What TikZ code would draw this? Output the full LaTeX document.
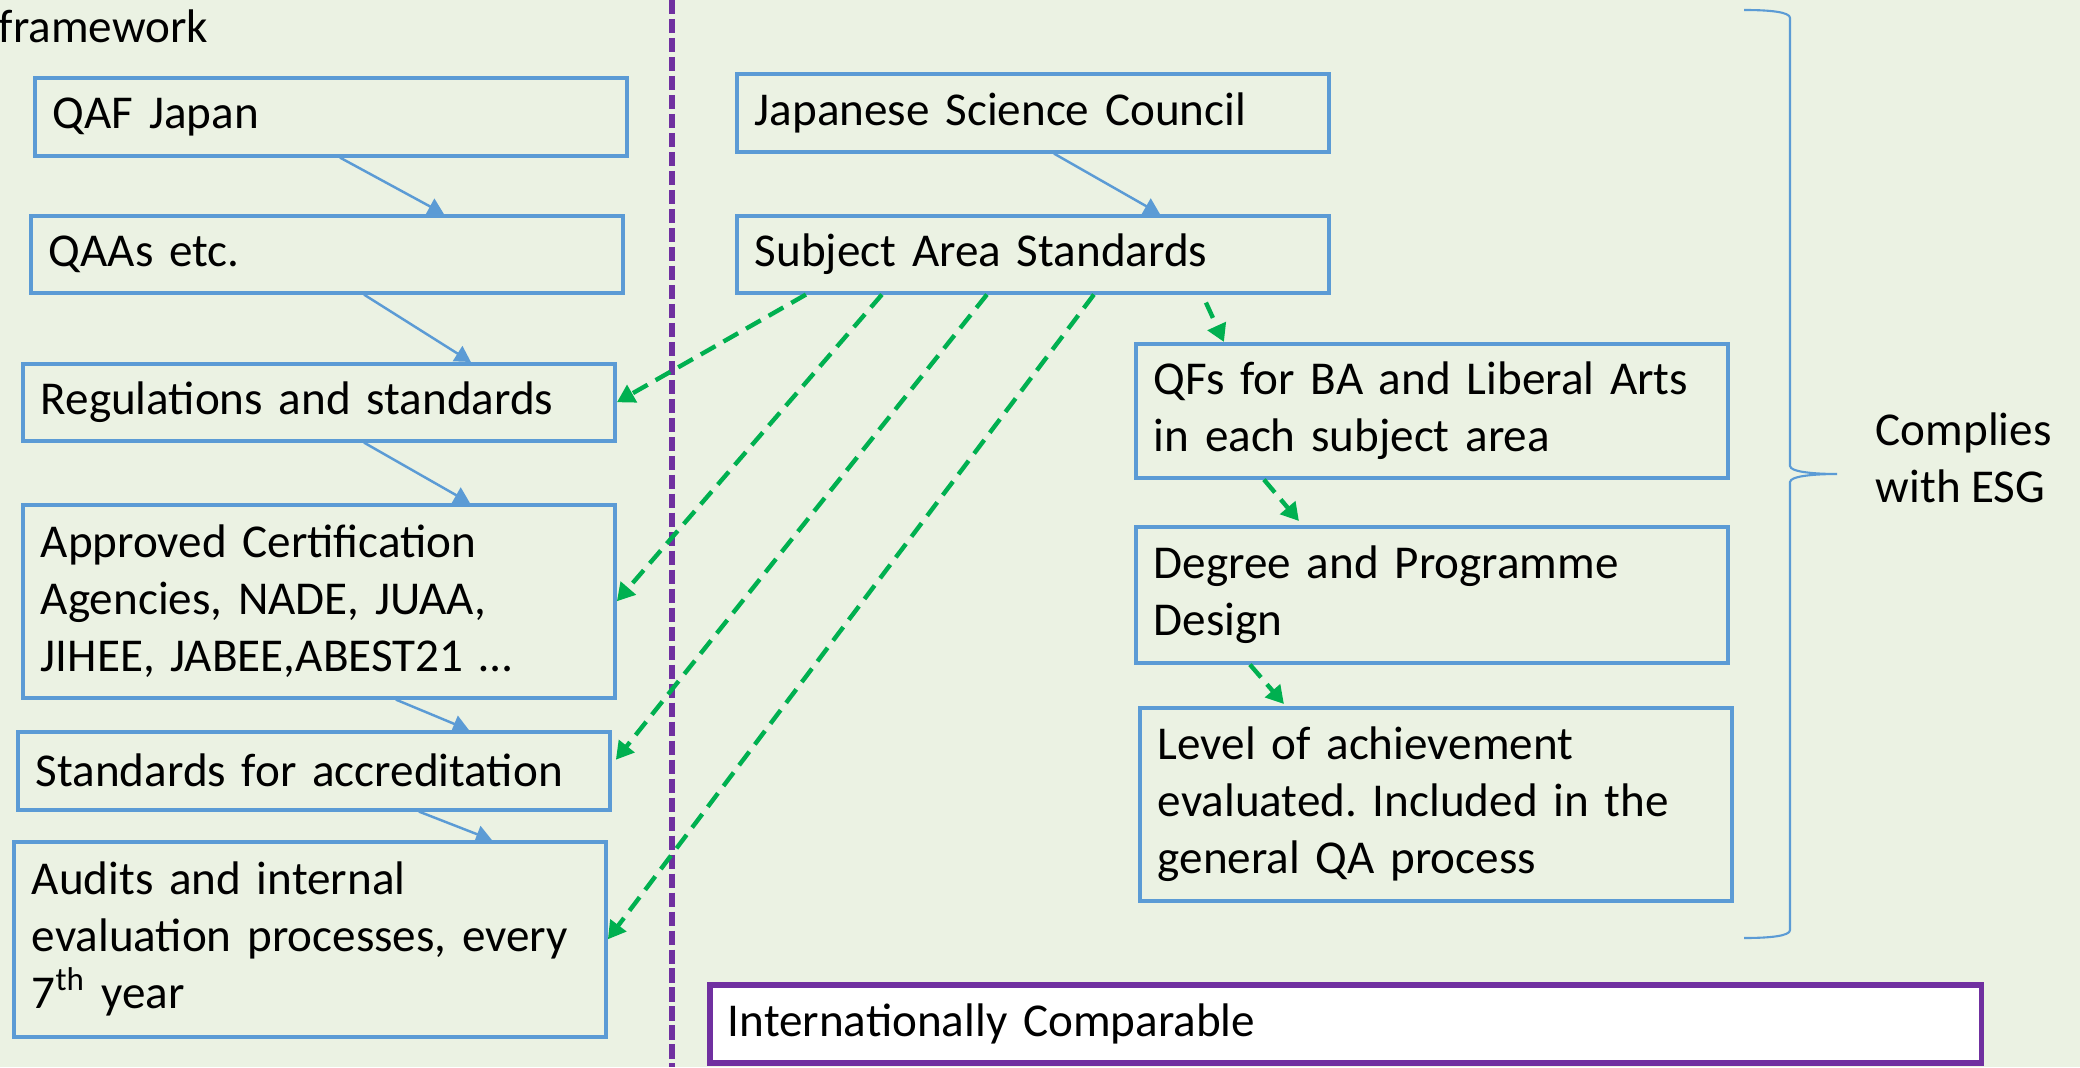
\documentclass[tikz,border=0pt]{standalone}
\usepackage{fontspec}
\setmainfont{Carlito}
\usetikzlibrary{calc,arrows.meta}

\definecolor{slidebg}{RGB}{235,242,227}
\definecolor{boxblue}{RGB}{91,155,213}
\definecolor{arrgreen}{RGB}{0,176,80}
\definecolor{sepurple}{RGB}{112,48,160}
\newcommand{\qffont}{\fontsize{13.4pt}{16.2pt}\selectfont}
\frenchspacing

\begin{document}
\begin{tikzpicture}[x=0.01cm,y=-0.01cm]

\tikzstyle{qfbox} = [rectangle,draw=boxblue,line width=1pt,anchor=north west,align=left,text width=5.56cm,inner xsep=0.18cm,inner ysep=0pt,font=\qffont,text=black]%
\tikzstyle{qflabel} = [inner sep=0,align=left,font=\qffont,text=black]%
\tikzstyle{qfarc} = [-{Triangle[length=4.5pt,width=5pt]},draw=boxblue,line width=0.7pt]%
\tikzstyle{sdarc} = [-{Triangle[length=5pt,width=5.5pt]},draw=arrgreen,line width=1.25pt,dash pattern=on 4.8pt off 2.6pt]%
\tikzstyle{divider} = [draw=sepurple,line width=1.9pt,dash pattern=on 4pt off 1.4pt]%

\useasboundingbox (0,0) rectangle (2080,1067);
\fill[slidebg] (0,0) rectangle (2080,1067);

\draw[divider] (672,0) -- (672,1067);

\node[qflabel,anchor=base west] (frame) at (-2,43) {framework};

% national side
\node[qfbox,minimum height=0.78cm] (qaf) at (33,76) {QAF Japan};
\node[qfbox,minimum height=0.77cm] (qaas) at (29,214) {QAAs etc.};
\node[qfbox,minimum height=0.77cm] (regs) at (21,362) {Regulations and standards};
\node[qfbox,minimum height=1.93cm] (agency) at (21,503) {Approved Certification\\Agencies, NADE, JUAA,\\JIHEE, JABEE,ABEST21 …};
\node[qfbox,minimum height=0.78cm] (accstd) at (16,730) {Standards for accreditation};
\node[qfbox,minimum height=1.95cm] (audit) at (12,840) {Audits and internal\\evaluation processes, every\\7\textsuperscript{th} year};

% subject side
\node[qfbox,minimum height=0.78cm] (scj) at (735,72) {Japanese Science Council};
\node[qfbox,minimum height=0.77cm] (sas) at (735,214) {Subject Area Standards};
\node[qfbox,minimum height=1.34cm] (qfs) at (1134,342) {QFs for BA and Liberal Arts\\in each subject area};
\node[qfbox,minimum height=1.36cm] (design) at (1134,525) {Degree and Programme\\Design};
\node[qfbox,minimum height=1.93cm] (level) at (1138,706) {Level of achievement\\evaluated. Included in the\\general QA process};

\node[qfbox,draw=sepurple,fill=white,line width=1.6pt,text width=12.35cm,minimum height=0.78cm] (intl) at (707,982) {Internationally Comparable};

\node[qflabel,anchor=west] (esg) at (1875,458) {Complies\\with ESG};

\draw[qfarc] ($(qaf.south)+(9,0)$) -- ($(qaas.north)+(117,0)$);
\draw[qfarc] ($(qaas.south)+(37,0)$) -- ($(regs.north)+(152,0)$);
\draw[qfarc] ($(regs.south)+(45,0)$) -- ($(agency.north)+(151,0)$);
\draw[qfarc] ($(agency.south)+(77,0)$) -- ($(accstd.north)+(155,0)$);
\draw[qfarc] ($(accstd.south)+(105,0)$) -- ($(audit.north)+(182,0)$);
\draw[qfarc] ($(scj.south)+(21,0)$) -- ($(sas.north)+(127,0)$);

\draw[sdarc] ($(sas.south)+(-227,0)$) -- (regs.east);
\draw[sdarc] ($(sas.south)+(-151,0)$) -- (agency.east);
\draw[sdarc] ($(sas.south)+(-46,0)$) -- ($(accstd.east)+(4,-11)$);
\draw[sdarc] ($(sas.south)+(61,0)$) -- (audit.east);
\draw[sdarc] ($(sas.south)+(173,8)$) -- ($(qfs.north)+(-208,0)$);
\draw[sdarc] ($(qfs.south)+(-168,0)$) -- ($(design.north)+(-133,-4)$);
\draw[sdarc] ($(design.south)+(-182,0)$) -- ($(level.north)+(-152,-2)$);

% brace
\draw[boxblue,line width=0.6pt] (1744,10) .. controls (1770,10) and (1790,12) .. (1790,18)
    -- (1790,466) .. controls (1790,472) and (1815,474) .. (1837,474)
    .. controls (1815,474) and (1790,476) .. (1790,482)
    -- (1790,930) .. controls (1790,936) and (1770,938) .. (1744,938);

\end{tikzpicture}
\end{document}
